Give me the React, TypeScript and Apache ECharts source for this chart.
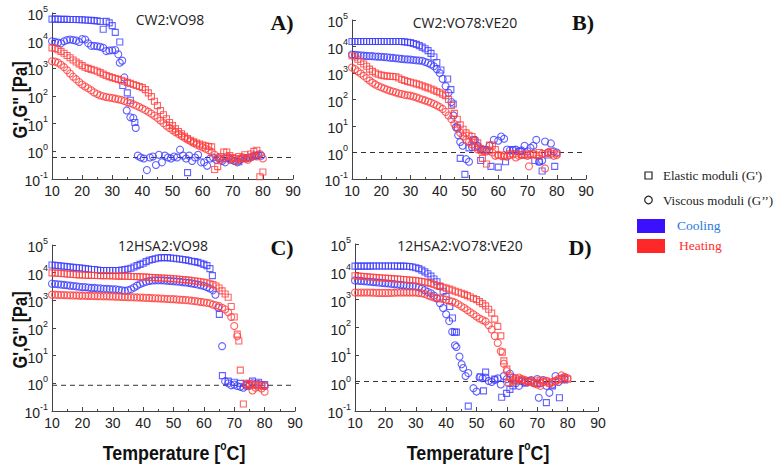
import React, { useEffect, useRef } from 'react';
import * as echarts from 'echarts';

type Pt = [number, number];

// ---------- Panel A: CW2:VO98 ----------
const A_coolGp: Pt[] = [[10,6.0e4],[11,6.0e4],[12,6.0e4],[13,5.9e4],[14,5.9e4],[15,5.9e4],[16,5.8e4],[17,5.8e4],[18,5.8e4],[19,5.7e4],[20,5.7e4],[21,5.6e4],[22,5.5e4],[23,5.4e4],[24,5.3e4],[25,5.2e4],[26,4.9e4],[27,2.6e4],[28,5.0e4],[29,4.4e4],[30,3.5e4],[31,2.0e4],[32.5,9.0e3],[33.5,240],[35,130],[36,70],[37.5,11],[55,0.17],[68,0.55],[72,0.42],[75,0.6],[78,0.7]];
const A_coolGpp: Pt[] = [[10,9.5e3],[11,9.0e3],[12,8.5e3],[13,8.0e3],[14,9.5e3],[15,1.05e4],[16,1.1e4],[17,1.05e4],[18,1.0e4],[19,9.0e3],[20,1.15e4],[21,1.1e4],[22,8.0e3],[23,6.5e3],[24,6.5e3],[25,6.3e3],[26,6.0e3],[27,5.5e3],[28,4.2e3],[29,4.4e3],[30,4.5e3],[31,4.6e3],[32,3.2e3],[32.5,1.6e3],[33.3,1.9e3],[34,470],[34.8,30],[36,17],[37,16],[37.8,7],[38.5,0.7],[39.5,0.6],[40.5,0.55],[41.5,0.21],[42.5,0.6],[43.5,0.65],[44.5,0.32],[45.5,0.75],[46.5,0.4],[47.5,0.7],[48.5,0.6],[49.5,0.55],[50.5,0.65],[51.5,0.6],[52.5,1.15],[53.5,0.7],[54.5,0.55],[55.5,0.7],[56.5,0.45],[57.5,0.6],[58.5,0.75],[59.5,0.4],[60.5,0.4],[61.5,0.3],[62.5,0.55],[63.5,0.6],[64.5,0.5],[65.5,0.55],[66.5,0.45],[67.5,0.4],[68.5,0.6],[69.5,0.5],[70.5,0.45],[71.5,0.4],[72.5,0.5],[73.5,0.6],[74.5,0.55],[75.5,0.6],[76.5,0.65],[77.5,0.7],[78.5,0.75],[79.5,0.7]];
const A_heatGp: Pt[] = [[10,5.5e3],[11,5.2e3],[12,4.7e3],[13,4.1e3],[14,3.5e3],[15,2.9e3],[16,2.4e3],[17,2.0e3],[18,1.7e3],[19,1.45e3],[20,1.25e3],[21,1.1e3],[22,1.0e3],[23,920],[24,850],[25,780],[26,700],[27,620],[28,550],[29,500],[30,460],[31,430],[32,400],[33,370],[34,340],[35,310],[36,285],[37,260],[38,240],[39,220],[40,200],[41,170],[42,130],[43,95],[44,65],[45,45],[46,30],[47,21],[48,15],[49,11],[50,8.5],[51,6.5],[52,5.2],[53,4.3],[54,3.5],[55,2.9],[56,2.5],[57,2.2],[58,2.0],[59,1.85],[60,1.7],[61,1.6],[62,1.5],[63,1.45],[64,0.22],[65,0.28],[66,0.65],[67,0.95],[68,0.95],[69,0.7],[70,0.6],[71,0.55],[72,0.65],[73,0.55],[74,0.75],[75,0.6],[76,0.8],[77,1.0],[78,1.1],[79,0.12],[80,0.18]];
const A_heatGpp: Pt[] = [[10,1.8e3],[11,1.75e3],[12,1.6e3],[13,1.35e3],[14,1.1e3],[15,850],[16,650],[17,500],[18,400],[19,320],[20,260],[21,220],[22,190],[23,160],[24,135],[25,118],[26,105],[27,98],[28,92],[29,88],[30,84],[31,80],[32,76],[33,72],[34,66],[35,60],[36,55],[37,50],[38,45],[39,40],[40,35],[41,31],[42,27],[43,23],[44,19.5],[45,16],[46,13],[47,10.5],[48,8.5],[49,7],[50,5.8],[51,4.9],[52,4.2],[53,3.6],[54,3.1],[55,2.7],[56,2.3],[57,2.0],[58,1.75],[59,1.55],[60,1.4],[61,1.25],[62,1.1],[63,0.95],[64,0.75],[65,0.6],[66,0.5],[67,0.55],[68,0.65],[69,0.5],[70,0.55],[71,0.45],[72,0.5],[73,0.6],[74,0.55],[75,0.5],[76,0.6],[77,0.7],[78,0.65],[79,0.8],[80,0.55]];
const A_base = 0.6;

// ---------- Panel B: CW2:VO78:VE20 ----------
const B_coolGp: Pt[] = [[10,1.55e4],[11,1.55e4],[12,1.55e4],[13,1.55e4],[14,1.55e4],[15,1.55e4],[16,1.55e4],[17,1.55e4],[18,1.55e4],[19,1.55e4],[20,1.55e4],[21,1.55e4],[22,1.55e4],[23,1.55e4],[24,1.55e4],[25,1.55e4],[26,1.55e4],[27,1.55e4],[28,1.5e4],[29,1.45e4],[30,1.4e4],[31,1.3e4],[32,1.2e4],[33,1.08e4],[34,9.5e3],[35,8.2e3],[36,7.0e3],[37,5.5e3],[38,4.0e3],[39,2.5e3],[40.4,1.3e3],[42.7,590],[43.8,235],[44.6,68],[46,9],[47,0.6],[48.6,0.15],[50,1.5],[51.5,3],[53,1.6],[54,0.5],[55.5,1.3],[57.5,0.3],[60,0.28],[62.5,0.45],[65,1.3],[67.5,1.1],[70,0.8],[72.5,0.5],[74,0.45],[75,0.2],[77,0.8],[79.3,0.3]];
const B_coolGpp: Pt[] = [[10,5.0e3],[11,4.8e3],[12,4.7e3],[13,4.6e3],[14,4.5e3],[15,4.4e3],[16,4.35e3],[17,4.3e3],[18,4.2e3],[19,4.15e3],[20,4.1e3],[21,4.0e3],[22,3.9e3],[23,3.8e3],[24,3.7e3],[25,3.6e3],[26,3.5e3],[27,3.4e3],[28,3.3e3],[29,3.25e3],[30,3.2e3],[31,3.1e3],[32,3.0e3],[33,2.95e3],[34,2.9e3],[35,2.6e3],[36,2.4e3],[37,2.1e3],[38,1.8e3],[39,1.4e3],[40,1.0e3],[41,600],[42,320],[43,180],[44,80],[44.7,25],[45.5,9],[46.3,4.5],[47,2.5],[47.8,1.8],[49,0.56],[50,0.45],[51,1.6],[52,3],[53,1.8],[54.5,1.3],[56,1.2],[57,1.8],[58.5,3],[60,2.8],[61,4],[62,3.3],[63,1.3],[64,1.2],[65,1.2],[66,1.3],[67,1.1],[68,1.2],[69,1.8],[70,1.1],[71,1.5],[72,1.8],[73,3],[74,0.45],[75,0.5],[76,2.6],[77,1.0],[78,2.2],[79,1.1],[80,1.0]];
const B_heatGp: Pt[] = [[10,4.5e3],[11,4.0e3],[12,3.3e3],[13,2.7e3],[14,2.2e3],[15,1.8e3],[16,1.4e3],[17,1.15e3],[18,1.0e3],[19,900],[20,830],[21,790],[22,760],[23,750],[24,740],[25,720],[26,650],[27,570],[28,520],[29,480],[30,450],[31,420],[32,390],[33,360],[34,330],[35,300],[36,275],[37,250],[38,225],[39,200],[40,180],[41,160],[42,140],[43,100],[44,60],[45,30],[46,18],[47,11],[48,7.5],[49,5.5],[50,4.5],[51,4.0],[52,2.8],[53,2.3],[54,1.4],[54.6,0.6],[56,0.37],[57,1.9],[58,1.9],[59,1.3],[60,0.8],[62,0.7],[64,0.9],[66,0.9],[68,0.85],[70,0.9],[72,0.8],[74,1.0],[76,0.9],[78,1.1],[80,0.9]];
const B_heatGpp: Pt[] = [[10,1.6e3],[11,1.4e3],[12,1.15e3],[13,950],[14,780],[15,640],[16,520],[17,430],[18,370],[19,320],[20,290],[21,260],[22,235],[23,215],[24,200],[25,185],[26,170],[27,160],[28,150],[29,145],[30,140],[31,130],[32,120],[33,110],[34,100],[35,92],[36,84],[37,76],[38,68],[39,60],[40,52],[41,44],[42,34],[43,25],[44,18],[45,12],[46,8],[47,5.5],[48,4],[49,3],[50,2.5],[51,2],[52,1.6],[53,1.3],[54,1.2],[55,1.15],[56,1.1],[57,1.2],[58,1.0],[59,0.75],[60,0.8],[61,0.75],[62,0.8],[63,0.7],[64,0.8],[65,0.85],[66,0.65],[67,0.75],[68,0.8],[69,0.8],[70,0.75],[70.5,0.3],[71,0.85],[72,0.9],[73,0.8],[74,0.75],[75,0.9],[76,0.25],[77,1.0],[78,0.9],[79,0.75],[80,0.8]];
const B_base = 1.0;

// ---------- Panel C: 12HSA2:VO98 ----------
const C_coolGp: Pt[] = [[10,1.9e4],[11,1.85e4],[12,1.8e4],[13,1.75e4],[14,1.7e4],[15,1.65e4],[16,1.6e4],[17,1.55e4],[18,1.5e4],[19,1.5e4],[20,1.45e4],[21,1.4e4],[22,1.35e4],[23,1.3e4],[24,1.3e4],[25,1.25e4],[26,1.2e4],[27,1.2e4],[28,1.2e4],[29,1.2e4],[30,1.2e4],[31,1.2e4],[32,1.2e4],[33,1.25e4],[34,1.3e4],[35,1.35e4],[36,1.45e4],[37,1.6e4],[38,1.8e4],[39,2.0e4],[40,2.2e4],[41,2.5e4],[42,2.8e4],[43,3.0e4],[44,3.2e4],[45,3.4e4],[46,3.5e4],[47,3.5e4],[48,3.5e4],[49,3.4e4],[50,3.3e4],[51,3.2e4],[52,3.1e4],[53,3.0e4],[54,2.9e4],[55,2.75e4],[56,2.6e4],[57,2.5e4],[58,2.35e4],[59,2.2e4],[60,2.0e4],[61,1.8e4],[62,1.4e4],[62.8,7.8e3],[65.1,310],[66.1,1.9],[68,1.2],[70,1.1],[72,1.0],[74,0.9],[76,1.2],[78,1.1],[80,0.9]];
const C_coolGpp: Pt[] = [[10,4.0e3],[11,3.9e3],[12,3.8e3],[13,3.7e3],[14,3.6e3],[15,3.5e3],[16,3.4e3],[17,3.3e3],[18,3.2e3],[19,3.1e3],[20,3.0e3],[21,3.0e3],[22,2.9e3],[23,2.8e3],[24,2.8e3],[25,2.7e3],[26,2.7e3],[27,2.6e3],[28,2.6e3],[29,2.55e3],[30,2.5e3],[31,2.5e3],[32,2.4e3],[33,2.3e3],[34,2.2e3],[35,2.3e3],[36,2.5e3],[37,2.9e3],[38,3.4e3],[39,3.9e3],[40,4.3e3],[41,4.7e3],[42,5.0e3],[43,5.2e3],[44,5.3e3],[45,5.3e3],[46,5.3e3],[47,5.2e3],[48,5.1e3],[49,5.0e3],[50,4.9e3],[51,4.8e3],[52,4.7e3],[53,4.5e3],[54,4.4e3],[55,4.3e3],[56,4.1e3],[57,3.9e3],[58,3.7e3],[59,3.5e3],[60,3.3e3],[61,3.0e3],[62,2.7e3],[63,2.3e3],[63.8,1.6e3],[64.7,550],[66,22],[67,1.2],[68,1.0],[69,0.85],[70,0.9],[71,0.8],[72,0.75],[73,0.7],[74,0.8],[75,0.85],[76,1.0],[77,0.9],[78,0.95],[79,0.85],[80,0.8]];
const C_heatGp: Pt[] = [[10,9.8e3],[11,9.7e3],[12,9.5e3],[13,9.3e3],[14,9.1e3],[15,9.0e3],[16,8.8e3],[17,8.6e3],[18,8.4e3],[19,8.3e3],[20,8.2e3],[21,8.1e3],[22,8.0e3],[23,8.0e3],[24,7.9e3],[25,7.9e3],[26,7.8e3],[27,7.8e3],[28,7.7e3],[29,7.7e3],[30,7.6e3],[31,7.6e3],[32,7.5e3],[33,7.5e3],[34,7.4e3],[35,7.4e3],[36,7.3e3],[37,7.3e3],[38,7.2e3],[39,7.1e3],[40,7.0e3],[41,6.9e3],[42,6.8e3],[43,6.7e3],[44,6.6e3],[45,6.5e3],[46,6.4e3],[47,6.3e3],[48,6.2e3],[49,6.1e3],[50,6.0e3],[51,5.9e3],[52,5.8e3],[53,5.6e3],[54,5.5e3],[55,5.4e3],[56,5.2e3],[57,5.0e3],[58,4.9e3],[59,4.7e3],[60,4.5e3],[61,4.3e3],[62,4.0e3],[63,3.7e3],[64,3.3e3],[65,2.8e3],[66,2.2e3],[67,1.7e3],[68,1.3e3],[69,600],[70,250],[71,60],[71.5,34],[72,3],[73,0.18],[74,1.0],[75,1.0],[76,0.9],[77,0.85],[78,0.9],[79,0.85],[80,0.8]];
const C_heatGpp: Pt[] = [[10,1.6e3],[11,1.6e3],[12,1.58e3],[13,1.56e3],[14,1.55e3],[15,1.53e3],[16,1.52e3],[17,1.5e3],[18,1.5e3],[19,1.48e3],[20,1.47e3],[21,1.46e3],[22,1.45e3],[23,1.44e3],[24,1.43e3],[25,1.42e3],[26,1.41e3],[27,1.4e3],[28,1.4e3],[29,1.39e3],[30,1.38e3],[31,1.36e3],[32,1.35e3],[33,1.33e3],[34,1.32e3],[35,1.3e3],[36,1.29e3],[37,1.28e3],[38,1.27e3],[39,1.26e3],[40,1.25e3],[41,1.23e3],[42,1.22e3],[43,1.2e3],[44,1.19e3],[45,1.17e3],[46,1.16e3],[47,1.14e3],[48,1.12e3],[49,1.11e3],[50,1.1e3],[51,1.08e3],[52,1.06e3],[53,1.04e3],[54,1.02e3],[55,1.0e3],[56,970],[57,940],[58,910],[59,880],[60,850],[61,810],[62,780],[63,700],[64,660],[65,620],[66,540],[67,470],[68,370],[69,250],[70,118],[71,50],[74,0.87],[75,0.8],[76,0.55],[77,0.7],[78,0.75],[79,0.65],[80,0.5]];
const C_base = 0.85;

// ---------- Panel D: 12HSA2:VO78:VE20 ----------
const D_coolGp: Pt[] = [[10,1.6e4],[11,1.6e4],[12,1.6e4],[13,1.6e4],[14,1.6e4],[15,1.6e4],[16,1.62e4],[17,1.62e4],[18,1.62e4],[19,1.62e4],[20,1.62e4],[21,1.62e4],[22,1.62e4],[23,1.62e4],[24,1.6e4],[25,1.6e4],[26,1.6e4],[27,1.58e4],[28,1.55e4],[29,1.5e4],[30,1.4e4],[31,1.3e4],[32,1.15e4],[33,1.0e4],[34,8.5e3],[35,7.0e3],[36,5.5e3],[37,4.4e3],[38,3.0e3],[39,2.0e3],[40,1.3e3],[41.2,570],[42.1,220],[42.8,68],[43.4,68],[47.3,0.15],[51.2,1.7],[52.3,0.53],[53,2.5],[56,1.4],[58.3,0.31],[59.9,0.43],[61,0.6],[62,0.8],[64,1.2],[66,1.0],[68,1.1],[70,1.0],[73,0.2],[75,0.8],[77.3,0.3],[79,1.3]];
const D_coolGpp: Pt[] = [[10,4.9e3],[11,4.8e3],[12,4.7e3],[13,4.6e3],[14,4.5e3],[15,4.4e3],[16,4.3e3],[17,4.2e3],[18,4.1e3],[19,4.0e3],[20,3.9e3],[21,3.8e3],[22,3.7e3],[23,3.6e3],[24,3.5e3],[25,3.4e3],[26,3.3e3],[27,3.2e3],[28,3.1e3],[29,3.05e3],[30,3.0e3],[31,2.8e3],[32,2.5e3],[33,2.2e3],[34,1.9e3],[35,1.7e3],[36,1.4e3],[37,1.1e3],[38,750],[39,500],[40,300],[41,170],[42,70],[42.9,23],[43.4,20],[44.4,9],[45.1,4.8],[45.6,3.5],[46.4,1.8],[47.3,2.3],[49,0.66],[50,0.5],[51,1.6],[52,1.5],[53,1.6],[54,1.2],[55,1.1],[56,1.3],[57,1.5],[58,0.9],[59,1.8],[60,1.4],[61,2.2],[62,1.6],[63,1.0],[64,0.8],[65,1.2],[66,1.1],[67,1.2],[68,1.3],[69,1.0],[70,1.4],[70.5,0.3],[71,1.0],[72,1.3],[73,0.8],[74,0.45],[75,0.9],[76,1.8],[77,1.1],[78,1.5],[79,1.4]];
const D_heatGp: Pt[] = [[10,7.2e3],[11,7.0e3],[12,6.9e3],[13,6.8e3],[14,6.6e3],[15,6.5e3],[16,6.4e3],[17,6.2e3],[18,6.1e3],[19,6.0e3],[20,5.9e3],[21,5.8e3],[22,5.7e3],[23,5.6e3],[24,5.5e3],[25,5.4e3],[26,5.3e3],[27,5.2e3],[28,5.1e3],[29,5.0e3],[30,4.9e3],[31,4.7e3],[32,4.5e3],[33,4.3e3],[34,4.1e3],[35,3.8e3],[36,3.5e3],[37,3.2e3],[38,3.0e3],[39,2.8e3],[40,2.6e3],[41,2.4e3],[42,2.2e3],[43,2.0e3],[44,1.85e3],[45,1.7e3],[46,1.55e3],[47,1.4e3],[48,1.25e3],[49,1.1e3],[50,1.0e3],[51,850],[52,720],[53,600],[54,450],[55,330],[56,200],[57,110],[58,50],[58.5,13],[59,6.3],[60,3.2],[60.6,1.05],[61,1.6],[62,1.1],[63,1.2],[64,1.4],[65,1.3],[66,1.2],[67,1.1],[68,1.2],[69,1.0],[70,1.2],[71,1.3],[72,1.1],[73,1.2],[74,1.0],[75,1.1],[76,1.2],[77,1.3],[78,1.4],[79,1.6],[80,1.4]];
const D_heatGpp: Pt[] = [[10,1.8e3],[11,1.8e3],[12,1.8e3],[13,1.8e3],[14,1.8e3],[15,1.8e3],[16,1.78e3],[17,1.76e3],[18,1.75e3],[19,1.75e3],[20,1.75e3],[21,1.75e3],[22,1.76e3],[23,1.78e3],[24,1.8e3],[25,1.8e3],[26,1.8e3],[27,1.8e3],[28,1.8e3],[29,1.8e3],[30,1.8e3],[31,1.75e3],[32,1.7e3],[33,1.6e3],[34,1.45e3],[35,1.3e3],[36,1.2e3],[37,1.15e3],[38,1.1e3],[39,1.05e3],[40,1.0e3],[41,920],[42,850],[43,780],[44,680],[45,580],[46,500],[47,420],[48,350],[49,300],[50,250],[51,210],[52,185],[53,165],[54,120],[55,85],[56,50],[57,28],[58,14],[59,5],[60,2.7],[61,1.8],[62,1.3],[63,1.5],[64,1.6],[65,1.4],[66,1.3],[67,1.1],[68,1.2],[69,1.0],[70,0.9],[71,0.8],[72,1.1],[73,1.2],[74,1.0],[75,1.1],[76,1.2],[77,1.4],[78,1.9],[79,1.7],[80,1.5]];
const D_base = 1.15;

const PANEL_TITLES = ['CW2:VO98', 'CW2:VO78:VE20', '12HSA2:VO98', '12HSA2:VO78:VE20'];
const PANEL_LETTERS = ['A)', 'B)', 'C)', 'D)'];
const LEGEND_SHAPES = ["Elastic moduli (G')", 'Viscous moduli (G\u2019\u2019)'];
const LEGEND_MODES = ['Cooling', 'Heating'];

const BLUE = '#3c3cff';
const RED = '#ff3c3c';

const PANELS = [
  { grid: { left: 52, top: 13, width: 241, height: 166 }, sets: [A_coolGp, A_coolGpp, A_heatGp, A_heatGpp], base: A_base },
  { grid: { left: 352, top: 20, width: 234, height: 159 }, sets: [B_coolGp, B_coolGpp, B_heatGp, B_heatGpp], base: B_base },
  { grid: { left: 52, top: 245, width: 243, height: 166 }, sets: [C_coolGp, C_coolGpp, C_heatGp, C_heatGpp], base: C_base },
  { grid: { left: 355, top: 244, width: 243, height: 167 }, sets: [D_coolGp, D_coolGpp, D_heatGp, D_heatGpp], base: D_base },
];

const SANS = "'Liberation Sans', Arial, sans-serif";
const SERIF = "'Liberation Serif', 'DejaVu Serif', serif";

export default function App() {
  const ref = useRef<HTMLDivElement>(null);
  useEffect(() => {
    const chart = echarts.init(ref.current!, null, { renderer: 'svg' });
    const xAxis = PANELS.map((_, i) => ({
      type: 'value', gridIndex: i, min: 10, max: 90, interval: 10,
      axisLine: { show: true, lineStyle: { color: '#444', width: 1 } },
      axisTick: { show: true, inside: true, length: 4, lineStyle: { color: '#444' } },
      minorTick: { show: true, splitNumber: 2, length: 2, lineStyle: { color: '#444' } },
      splitLine: { show: false },
      axisLabel: { fontFamily: SANS, fontSize: 14, color: '#222', margin: 5 },
    }));
    const yAxis = PANELS.map((_, i) => ({
      type: 'log', logBase: 10, gridIndex: i, min: 0.1, max: 100000,
      axisLine: { show: true, lineStyle: { color: '#444', width: 1 } },
      axisTick: { show: true, inside: true, length: 4, lineStyle: { color: '#444' } },
      splitLine: { show: false },
      axisLabel: {
        margin: 4,
        formatter: (v: number) => `{b|10}{s|${Math.round(Math.log10(v))}}`,
        rich: {
          b: { fontFamily: SANS, fontSize: 14, color: '#222', lineHeight: 18, verticalAlign: 'bottom' },
          s: { fontFamily: SANS, fontSize: 9, color: '#222', lineHeight: 18, verticalAlign: 'top' },
        },
      },
    }));
    const series: any[] = [];
    PANELS.forEach((p, i) => {
      const styles = [
        { symbol: 'rect', color: BLUE, size: 6 },
        { symbol: 'circle', color: BLUE, size: 7 },
        { symbol: 'rect', color: RED, size: 6 },
        { symbol: 'circle', color: RED, size: 7 },
      ];
      series.push({
        type: 'line', xAxisIndex: i, yAxisIndex: i, data: [[10, p.base], [90, p.base]],
        symbol: 'none', silent: true, lineStyle: { color: '#333', width: 1, type: [5, 4] }, z: 1,
      });
      p.sets.forEach((d, k) => {
        series.push({
          type: 'scatter', xAxisIndex: i, yAxisIndex: i, data: d,
          symbol: styles[k].symbol, symbolSize: styles[k].size, silent: true,
          itemStyle: { color: 'rgba(255,255,255,0)', borderColor: styles[k].color, borderWidth: 1.1 },
          z: 2 + k,
        });
      });
    });

    const titlePos = [[170, 19], [465, 22], [163, 245], [460, 245]];
    const letterPos = [[282, 22], [583, 22], [282, 247], [580, 247]];
    const graphic: any[] = [];
    PANEL_TITLES.forEach((t, i) => graphic.push({
      type: 'text', x: titlePos[i][0], y: titlePos[i][1],
      style: { text: t, fontFamily: "'Open Sans', sans-serif", fontSize: 14, fill: '#222', align: 'center', verticalAlign: 'middle' },
    }));
    PANEL_LETTERS.forEach((t, i) => graphic.push({
      type: 'text', x: letterPos[i][0], y: letterPos[i][1],
      style: { text: t, fontFamily: SERIF, fontWeight: 'bold', fontSize: 22, fill: '#111', align: 'center', verticalAlign: 'middle' },
    }));
    [100, 330].forEach((cy) => graphic.push({
      type: 'text', x: 20, y: cy, rotation: Math.PI / 2, scaleX: 0.82,
      style: { text: 'G\',G" [Pa]', fontFamily: SANS, fontWeight: 'bold', fontSize: 20, fill: '#111', align: 'center', verticalAlign: 'middle' },
    }));
    [174, 478].forEach((cx) => graphic.push({
      type: 'text', x: cx, y: 452, scaleX: 0.85,
      style: {
        text: 'Temperature [{s|o}C]', fontFamily: SANS, fontWeight: 'bold', fontSize: 21, fill: '#111', align: 'center', verticalAlign: 'middle',
        rich: { s: { fontFamily: SANS, fontWeight: 'bold', fontSize: 12, fill: '#111', verticalAlign: 'top', lineHeight: 24 } },
      },
    }));
    // legend
    graphic.push({ type: 'rect', shape: { x: 645, y: 172, width: 7, height: 7 }, style: { fill: 'none', stroke: '#222', lineWidth: 1.2 } });
    graphic.push({ type: 'circle', shape: { cx: 648.5, cy: 200, r: 3.8 }, style: { fill: 'none', stroke: '#222', lineWidth: 1.2 } });
    graphic.push({ type: 'text', x: 663, y: 175, style: { text: LEGEND_SHAPES[0], fontFamily: SERIF, fontSize: 13, fill: '#222', verticalAlign: 'middle' } });
    graphic.push({ type: 'text', x: 663, y: 200, style: { text: LEGEND_SHAPES[1], fontFamily: SERIF, fontSize: 13, fill: '#222', verticalAlign: 'middle' } });
    graphic.push({ type: 'rect', shape: { x: 637, y: 219, width: 28, height: 14 }, style: { fill: '#3a10ff' } });
    graphic.push({ type: 'rect', shape: { x: 637, y: 239, width: 28, height: 14 }, style: { fill: '#ff2828' } });
    graphic.push({ type: 'text', x: 677, y: 225, style: { text: LEGEND_MODES[0], fontFamily: SERIF, fontSize: 13.5, fill: '#2a7ad8', verticalAlign: 'middle' } });
    graphic.push({ type: 'text', x: 679, y: 245, style: { text: LEGEND_MODES[1], fontFamily: SERIF, fontSize: 13.5, fill: '#ff3030', verticalAlign: 'middle' } });

    chart.setOption({
      animation: false,
      backgroundColor: '#fff',
      grid: PANELS.map((p) => ({ ...p.grid, containLabel: false })),
      xAxis, yAxis, series, graphic,
    });
    return () => chart.dispose();
  }, []);
  return <div ref={ref} style={{ position: 'fixed', left: 0, top: 0, width: 776, height: 467, background: '#fff' }} />;
}
